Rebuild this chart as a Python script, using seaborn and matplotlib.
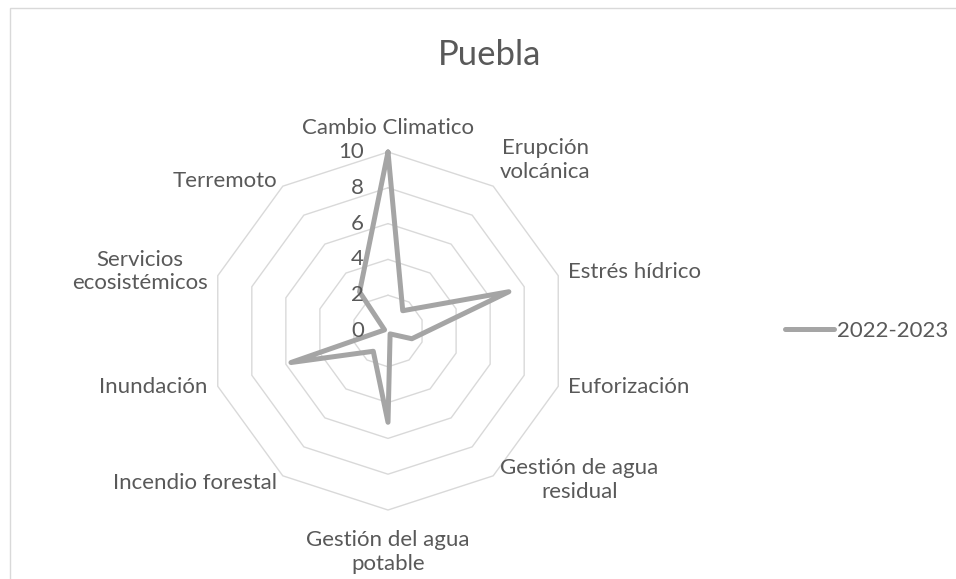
import numpy as np
import pandas as pd
import matplotlib
matplotlib.use("Agg")
import matplotlib.pyplot as plt
import seaborn as sns
from matplotlib.patches import Rectangle

categories = ["Cambio Climatico", "Erupción\nvolcánica", "Estrés hídrico", "Euforización",
              "Gestión de agua\nresidual", "Gestión del agua\npotable", "Incendio forestal",
              "Inundación", "Servicios\necosistémicos", "Terremoto"]
values = [10, 1.4, 7.1, 1.4, 0.2, 5.1, 1.4, 5.7, 0.2, 2.7]
series_name = "2022-2023"
title = "Puebla"
ring_levels = [2, 4, 6, 8, 10]
tick_values = [0, 2, 4, 6, 8, 10]

sns.set_theme(style="white")
plt.rcParams["font.family"] = ["Lato", "DejaVu Sans"]

TEXT = "#595959"
GRID = "#d9d9d9"
LINE = "#a5a5a5"

W, H = 956, 579
fig = plt.figure(figsize=(W / 100, H / 100), dpi=100)
fig.patch.set_facecolor("white")

# chart-area border
fig.add_artist(Rectangle((10 / W, -0.05), 1.1, 1.05 - 8 / H, transform=fig.transFigure,
                         fill=False, edgecolor=GRID, linewidth=1.0))

cx, cy, R = 388, 331, 179
ax = fig.add_axes([(cx - R) / W, (H - cy - R) / H, 2 * R / W, 2 * R / H], projection="polar")
ax.set_theta_zero_location("N")
ax.set_theta_direction(-1)
ax.set_ylim(0, 10)
ax.grid(False)
ax.spines["polar"].set_visible(False)
ax.set_xticks([])
ax.set_yticks([])
ax.patch.set_visible(False)

n = len(categories)
theta = np.linspace(0, 2 * np.pi, n, endpoint=False)
theta_c = np.append(theta, theta[0] + 2 * np.pi)

for lv in ring_levels:
    ax.plot(theta_c, [lv] * (n + 1), color=GRID, linewidth=1.0, clip_on=False, zorder=1)

df = pd.DataFrame({"theta": theta_c, "value": values + [values[0]]})
sns.lineplot(data=df, x="theta", y="value", sort=False, estimator=None, ax=ax,
             color=LINE, linewidth=3.6, label=series_name, clip_on=False, zorder=3)
ax.set_xlabel("")
ax.set_ylabel("")
ax.set_ylim(0, 10)

FS = 16
# offsets in pixels and alignment per label
label_pos = [
    ((0, 24), "center"),
    ((52, 26), "center"),
    ((10, 4), "left"),
    ((10, -1), "left"),
    ((86, -4), "center"),
    ((0, -42), "center"),
    ((-6, -7), "right"),
    ((-10, -1), "right"),
    ((-78, 4), "center"),
    ((-6, 5), "right"),
]
for t, lab, (off, ha) in zip(theta, categories, label_pos):
    ax.annotate(lab, xy=(t, 10), xytext=off, textcoords="offset pixels",
                ha=ha, va="center", fontsize=FS, color=TEXT, multialignment="center",
                linespacing=1.22, annotation_clip=False)

for v in tick_values:
    ax.annotate(str(v), xy=(0, v), xytext=(-24, 0), textcoords="offset pixels",
                ha="right", va="center", fontsize=FS, color=TEXT, annotation_clip=False)

fig.text(490 / W, 1 - 55 / H, title, ha="center", va="center", fontsize=25, color=TEXT)

leg = ax.legend(loc="center left", bbox_to_anchor=(785 / W, 1 - 331 / H),
                bbox_transform=fig.transFigure, frameon=False, fontsize=FS,
                handlelength=2.2, handletextpad=0.15, borderpad=0, borderaxespad=0)
for txt in leg.get_texts():
    txt.set_color(TEXT)

fig.savefig("out.png", dpi=100)
